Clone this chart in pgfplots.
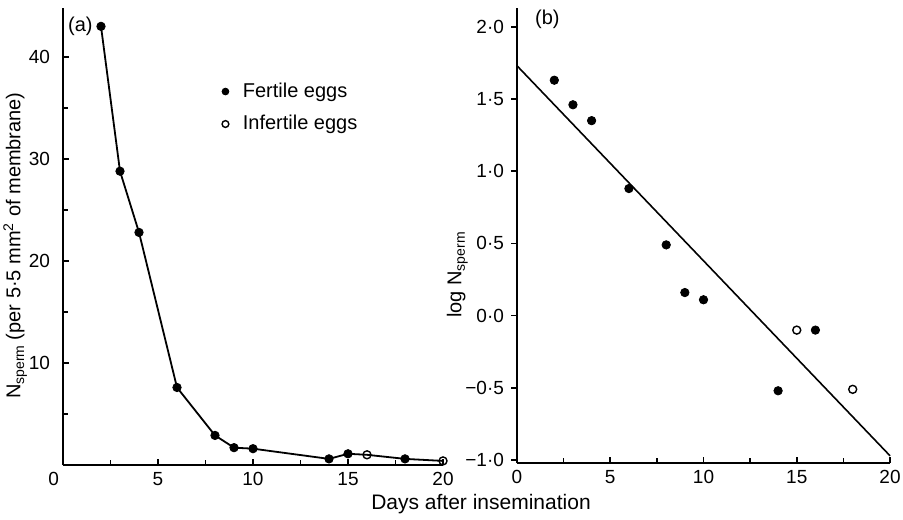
\documentclass[border=0pt]{standalone}
\usepackage{fontspec}
\setmainfont{Liberation Sans}
\usepackage{pgfplots}
\pgfplotsset{compat=1.18}
\pgfplotsset{
  common/.style={
    scale only axis,
    axis lines*=left,
    axis line style={line width=0.9pt,-},
    xmin=0, xmax=20,
    xtick={0,5,10,15,20}, minor xtick={2.5,7.5,12.5,17.5},
    major tick length=3pt, minor tick length=2.5pt,
    every tick/.style={line width=0.8pt,black},
    /pgf/number format/assume math mode=true,
    ticklabel style={font=\fontsize{9.5}{11}\selectfont},
    clip=false,
  }
}
\begin{document}
\begin{tikzpicture}[x=1pt,y=1pt]
\useasboundingbox (0,0) rectangle (451.5,259.5);
% ---------- panel (a)
\begin{axis}[common,
  at={(31.5pt,27pt)}, anchor=south west,
  width=190pt, height=228.5pt,
  ymin=0, ymax=44.8,
  tick align=inside,
  xticklabels={\makebox[0pt][r]{0\hspace{2pt}},5,10,15,20},
  ytick={10,20,30,40}, minor ytick={5,15,25,35},
  yticklabels={10,20,30,40},
  yticklabel style={xshift=-3pt},
  ylabel={N\raisebox{-0.35ex}{\fontsize{7}{8}\selectfont sperm} (per 5·5 mm\textsuperscript{2} of membrane)},
  ylabel style={at={(axis description cs:-0.126,0.48)}, anchor=center, font=\fontsize{10}{12}\selectfont},
  legend style={at={(axis cs:8.35,37.9)}, anchor=north west, draw=none, fill=none,
    font=\fontsize{10}{12}\selectfont, row sep=3.5pt, inner sep=0pt},
  legend cell align=left,
  legend image code/.code={\path (-1.5pt,0pt) (6.5pt,0pt); \draw[#1, mark size=1.7pt] plot coordinates {(0pt,0pt)};},
]
\addplot[black, line width=0.9pt, forget plot] coordinates {
(2,43) (3,28.8) (4,22.8) (6,7.6) (8,2.9) (9,1.7) (10,1.6) (14,0.6) (15,1.1) (16,1.0) (18,0.6) (20,0.4)};
\addplot[black, only marks, mark=*, mark size=2.1pt] coordinates {
(2,43) (3,28.8) (4,22.8) (6,7.6) (8,2.9) (9,1.7) (10,1.6) (14,0.6) (15,1.1) (18,0.6)};
\addlegendentry{Fertile eggs}
\addplot[black, only marks, mark=o, mark size=2.0pt, mark options={fill=white, line width=0.7pt}] coordinates {
(16,1.0) (20,0.4)};
\addlegendentry{Infertile eggs}
\node[anchor=west, inner sep=0pt, font=\fontsize{10}{12}\selectfont] at (axis cs:0.25,43.0) {(a)};
\end{axis}
% ---------- panel (b)
\begin{axis}[common,
  at={(258.5pt,28pt)}, anchor=south west,
  width=186.5pt, height=227.5pt,
  ymin=-1.02, ymax=2.13,
  xtick align=inside, ytick align=outside,
  xticklabels={0,5,10,15,20},
  ytick={-1,-0.5,0,0.5,1,1.5,2},
  yticklabels={−1·0,−0·5,0·0,0·5,1·0,1·5,2·0},
  ylabel={log N\raisebox{-0.35ex}{\fontsize{7}{8}\selectfont sperm}},
  ylabel style={at={(axis description cs:-0.16,0.413)}, anchor=center, font=\fontsize{10}{12}\selectfont},
]
\addplot[black, line width=0.8pt] coordinates {(0,1.73) (20,-0.97)};
\addplot[black, only marks, mark=*, mark size=2.1pt] coordinates {
(2,1.63) (3,1.46) (4,1.35) (6,0.88) (8,0.49) (9,0.16) (10,0.11) (14,-0.52) (16,-0.10)};
\addplot[black, only marks, mark=o, mark size=2.0pt, mark options={fill=white, line width=0.7pt}] coordinates {
(15,-0.10) (18,-0.51)};
\node[anchor=west, inner sep=0pt, font=\fontsize{10}{12}\selectfont] at (axis cs:0.95,2.05) {(b)};
\end{axis}
\node[anchor=base, font=\fontsize{10.5}{12}\selectfont] at (240.5,5) {Days after insemination};
\end{tikzpicture}
\end{document}
